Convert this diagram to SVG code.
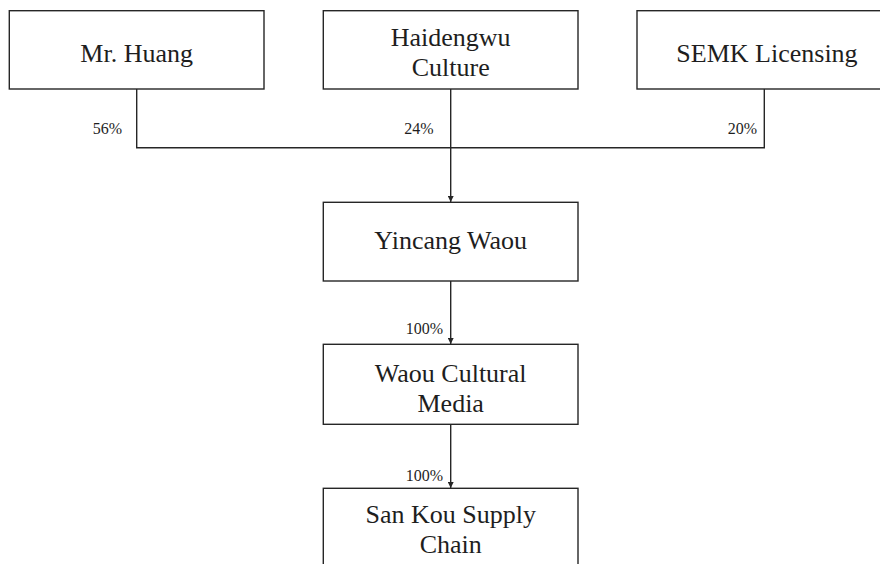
<svg xmlns="http://www.w3.org/2000/svg" width="880" height="564" viewBox="0 0 880 564">
<style>
  .box { fill: #ffffff; stroke: #262626; stroke-width: 1.4; }
  .lbl { font-family: "Liberation Serif", "Times New Roman", serif; font-size: 26px; fill: #1e1e1e; text-anchor: middle; }
  .pct { font-family: "Liberation Serif", "Times New Roman", serif; font-size: 16px; fill: #1e1e1e; text-anchor: end; }
  .wire { fill: none; stroke: #262626; stroke-width: 1.4; }
</style>
<defs>
  <marker id="arr" viewBox="0 0 10 10" refX="10" refY="5" markerWidth="6" markerHeight="6" markerUnits="userSpaceOnUse" orient="auto">
    <path d="M0,0 L10,5 L0,10 z" fill="#262626"/>
  </marker>
</defs>
<rect width="880" height="564" fill="#ffffff"/>
<g id="connectors">
  <path class="wire" d="M136.7,89 V147.7 H764.3 V89"/>
  <path class="wire" d="M450.7,89 V202" marker-end="url(#arr)"/>
  <path class="wire" d="M450.7,281 V344" marker-end="url(#arr)"/>
  <path class="wire" d="M450.7,424.3 V488" marker-end="url(#arr)"/>
  <text class="pct" x="122" y="134">56%</text>
  <text class="pct" x="433.5" y="134">24%</text>
  <text class="pct" x="757" y="134">20%</text>
  <text class="pct" x="443" y="334">100%</text>
  <text class="pct" x="443" y="481">100%</text>
</g>
<g id="mr-huang">
  <rect class="box" x="9.3" y="10.7" width="254.7" height="78.3"/>
  <text class="lbl" x="136.7" y="62.3">Mr. Huang</text>
</g>
<g id="haidengwu">
  <rect class="box" x="323.3" y="10.7" width="254.7" height="78.3"/>
  <text class="lbl" x="450.7" y="45.7">Haidengwu</text>
  <text class="lbl" x="450.7" y="76">Culture</text>
</g>
<g id="semk">
  <rect class="box" x="637" y="10.7" width="254.7" height="78.3"/>
  <text class="lbl" x="767" y="62.3">SEMK Licensing</text>
</g>
<g id="yincang">
  <rect class="box" x="323.3" y="202.3" width="254.7" height="78.7"/>
  <text class="lbl" x="450.7" y="249">Yincang Waou</text>
</g>
<g id="waou">
  <rect class="box" x="323.3" y="344.3" width="254.7" height="80"/>
  <text class="lbl" x="450.7" y="381.7">Waou Cultural</text>
  <text class="lbl" x="450.7" y="411.7">Media</text>
</g>
<g id="sankou">
  <rect class="box" x="323.3" y="488.3" width="254.7" height="90"/>
  <text class="lbl" x="450.7" y="523">San Kou Supply</text>
  <text class="lbl" x="450.7" y="552.5">Chain</text>
</g>
</svg>
